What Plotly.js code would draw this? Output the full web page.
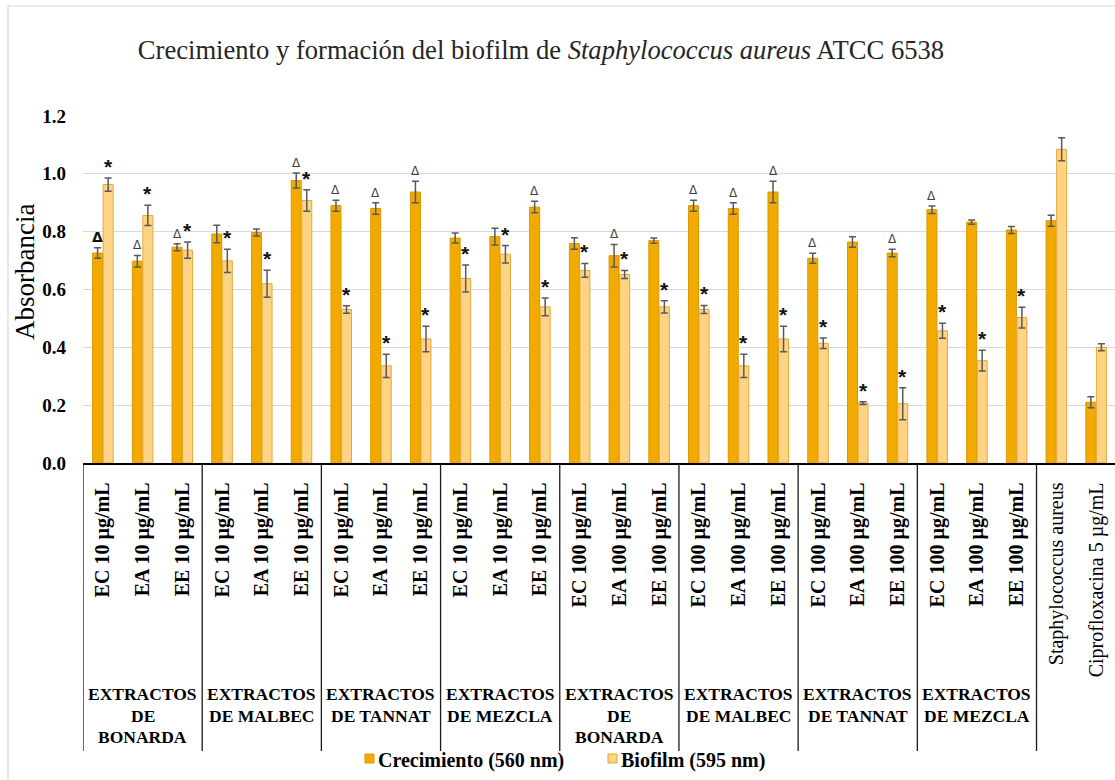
<!DOCTYPE html>
<html>
<head>
<meta charset="utf-8">
<script src="https://cdn.plot.ly/plotly-3.0.1.min.js"></script>
<style>html,body{margin:0;padding:0;background:#fff;}#chart{width:1115px;height:780px;}</style>
</head>
<body>
<div id="chart"></div>
<script>
// ---- data ----
const categories = [
  'EC 10 µg/mL','EA 10 µg/mL','EE 10 µg/mL',
  'EC 10 µg/mL','EA 10 µg/mL','EE 10 µg/mL',
  'EC 10 µg/mL','EA 10 µg/mL','EE 10 µg/mL',
  'EC 10 µg/mL','EA 10 µg/mL','EE 10 µg/mL',
  'EC 100 µg/mL','EA 100 µg/mL','EE 100 µg/mL',
  'EC 100 µg/mL','EA 100 µg/mL','EE 100 µg/mL',
  'EC 100 µg/mL','EA 100 µg/mL','EE 100 µg/mL',
  'EC 100 µg/mL','EA 100 µg/mL','EE 100 µg/mL',
  'Staphylococcus aureus','Ciprofloxacina 5 µg/mL'
];
const boldLabel = [1,1,1,1,1,1,1,1,1,1,1,1,1,1,1,1,1,1,1,1,1,1,1,1,0,0];
const groups = [
  ['EXTRACTOS','DE','BONARDA'],['EXTRACTOS','DE MALBEC'],['EXTRACTOS','DE TANNAT'],['EXTRACTOS','DE MEZCLA'],
  ['EXTRACTOS','DE','BONARDA'],['EXTRACTOS','DE MALBEC'],['EXTRACTOS','DE TANNAT'],['EXTRACTOS','DE MEZCLA']
];
const crecimiento = [0.726,0.698,0.746, 0.792,0.797,0.977, 0.890,0.880,0.937, 0.778,0.783,0.885,
                     0.759,0.717,0.769, 0.890,0.880,0.937, 0.708,0.764,0.726, 0.876,0.833,0.806, 0.838,0.210];
const crecimientoErr = [0.018,0.020,0.012, 0.030,0.012,0.026, 0.019,0.020,0.037, 0.017,0.029,0.020,
                        0.020,0.039,0.009, 0.019,0.020,0.037, 0.017,0.018,0.013, 0.013,0.007,0.012, 0.019,0.019];
const biofilm = [0.963,0.856,0.736, 0.699,0.620,0.908, 0.531,0.336,0.429, 0.638,0.722,0.540,
                 0.666,0.652,0.540, 0.531,0.336,0.429, 0.414,0.207,0.205, 0.457,0.354,0.503, 1.085,0.400];
const biofilmErr = [0.023,0.035,0.028, 0.040,0.047,0.037, 0.013,0.040,0.044, 0.047,0.030,0.031,
                    0.024,0.014,0.021, 0.014,0.040,0.044, 0.018,0.005,0.055, 0.026,0.036,0.036, 0.040,0.012];
// significance marks (2 = emphasised delta)
const crecimientoMark = [2,1,1, 0,0,1, 1,1,1, 0,0,1, 0,1,0, 1,1,1, 1,0,1, 1,0,0, 0,0];
const biofilmMark = [1,1,1, 1,1,1, 1,1,1, 1,1,1, 1,1,1, 1,1,1, 1,1,1, 1,1,1, 0,0];
const yTickLabels = ['0.0','0.2','0.4','0.6','0.8','1.0','1.2'];
const yTickValues = [0,0.2,0.4,0.6,0.8,1.0,1.2];
const seriesNames = ['Crecimiento (560 nm)','Biofilm (595 nm)'];
const chartTitle = 'Crecimiento y formación del biofilm de <i>Staphylococcus aureus</i> ATCC 6538';
const yTitle = 'Absorbancia';

// ---- layout geometry ----
const WIDTH = 1115, HEIGHT = 780;
const L = 83, T = 116, B = 317;
const PW = WIDTH - L, PH = HEIGHT - T - B;
const CATW = 39.73;
const px2x = p => (p - L) / PW;
const py2y = p => (T + PH - p) / PH;
const xs = categories.map((_, i) => i);
const COL1 = '#F2AA00', COL1L = '#D89A00';
const COL2 = '#FFD384', COL2L = '#E3A83A';
const serif = 'Liberation Serif';
const OFF = 0.1325;

const traces = [
  {type:'bar', name: seriesNames[0], x: xs, y: crecimiento,
   marker:{color: COL1, line:{color: COL1L, width: 1}},
   error_y:{type:'data', array: crecimientoErr, visible:true, color:'#595959', thickness:1.5, width:3.5},
   hoverinfo:'y'},
  {type:'bar', name: seriesNames[1], x: xs, y: biofilm,
   marker:{color: COL2, line:{color: COL2L, width: 1}},
   error_y:{type:'data', array: biofilmErr, visible:true, color:'#595959', thickness:1.5, width:3.5},
   hoverinfo:'y'}
];

const annotations = [];
crecimientoMark.forEach((m, i) => {
  if (!m) return;
  annotations.push({x: i - OFF, y: crecimiento[i] + crecimientoErr[i], xref:'x', yref:'y',
    text: m === 2 ? '<b>Δ</b>' : 'Δ', showarrow:false, yanchor:'bottom', yshift: 1,
    font:{family:'DejaVu Sans', size: m === 2 ? 14 : 12, color: m === 2 ? '#111' : '#404040'}});
});
biofilmMark.forEach((m, i) => {
  if (!m) return;
  annotations.push({x: i + OFF, y: biofilm[i] + biofilmErr[i], xref:'x', yref:'y',
    text: '<b>*</b>', showarrow:false, yanchor:'bottom', yshift: -2,
    font:{family:'Liberation Sans', size: 21, color:'#111'}});
});
const lineCenters = [694, 715.5, 737];
groups.forEach((g, k) => {
  g.forEach((line, j) => {
    annotations.push({x: 3*k + 1, y: py2y(lineCenters[j]), xref:'x', yref:'paper', text: '<b>' + line + '</b>',
      showarrow:false, yanchor:'middle', xanchor:'center', align:'center',
      font:{family: serif, size: 17.5, color:'#000'}});
  });
});
// y axis title (placed as in the reference, off the plot-area centre)
annotations.push({x: px2x(25), y: py2y(272), xref:'paper', yref:'paper', text: yTitle, textangle:-90,
  showarrow:false, xanchor:'center', yanchor:'middle', font:{family: serif, size: 27, color:'#000'}});
// legend (drawn manually to match the compact swatch/text spacing)
const legendItems = [
  {sx: 365, tx: 376, fill: COL1, line: COL1L},
  {sx: 608, tx: 619, fill: COL2, line: COL2L}
];
const shapes = [];
legendItems.forEach((it, k) => {
  shapes.push({type:'rect', xref:'paper', yref:'paper',
    x0: px2x(it.sx), x1: px2x(it.sx + 9), y0: py2y(763), y1: py2y(754),
    fillcolor: it.fill, line:{color: it.line, width: 1}});
  annotations.push({x: px2x(it.tx), y: py2y(760), xref:'paper', yref:'paper', text: '<b>' + seriesNames[k] + '</b>',
    showarrow:false, xanchor:'left', yanchor:'middle',
    font:{family: serif, size: 20, color:'#000'}});
});
// category separators
for (let k = 0; k <= 8; k++) {
  shapes.push({type:'line', xref:'x', yref:'paper', x0: 3*k - 0.5, x1: 3*k - 0.5,
    y0: 0, y1: py2y(751), line:{color:'#1a1a1a', width:1.3}});
}
// outer chart border
shapes.push({type:'rect', xref:'paper', yref:'paper', x0: px2x(8), x1: px2x(1140), y0: py2y(800), y1: py2y(6),
  line:{color:'#d9d9d9', width:1.2}, fillcolor:'rgba(0,0,0,0)', layer:'below'});

const layout = {
  width: WIDTH, height: HEIGHT,
  margin:{l: L, r: 0, t: T, b: B, pad: 0},
  paper_bgcolor:'#fff', plot_bgcolor:'#fff',
  showlegend:false,
  barmode:'group', bargap:0.47, bargroupgap:0.05,
  title:{text: chartTitle, x: 541/WIDTH, xanchor:'center', xref:'container',
         y: 1 - 50/HEIGHT, yanchor:'middle', yref:'container',
         font:{family: serif, size: 26.6, color:'#262626'}},
  xaxis:{range:[-0.5, -0.5 + PW / CATW], tickmode:'array', tickvals: xs,
         ticktext: categories.map((c, i) => boldLabel[i] ? '<b>' + c + '</b>' : c),
         tickangle:-90, ticks:'', ticklabelstandoff: 10,
         tickfont:{family: serif, size: 20, color:'#000'},
         showgrid:false, zeroline:false, showline:true, linecolor:'#000', linewidth:1.5, fixedrange:true},
  yaxis:{range:[0, 1.2], tickmode:'array', tickvals: yTickValues,
         ticktext: yTickLabels.map(t => '<b>' + t + '</b>'),
         ticks:'', ticklabelstandoff: 16,
         tickfont:{family: serif, size: 19, color:'#000'},
         gridcolor:'#d9d9d9', gridwidth:1, zeroline:false, showline:false, fixedrange:true},
  annotations: annotations,
  shapes: shapes
};
Plotly.newPlot('chart', traces, layout, {displayModeBar:false, staticPlot:true});
</script>
</body>
</html>
